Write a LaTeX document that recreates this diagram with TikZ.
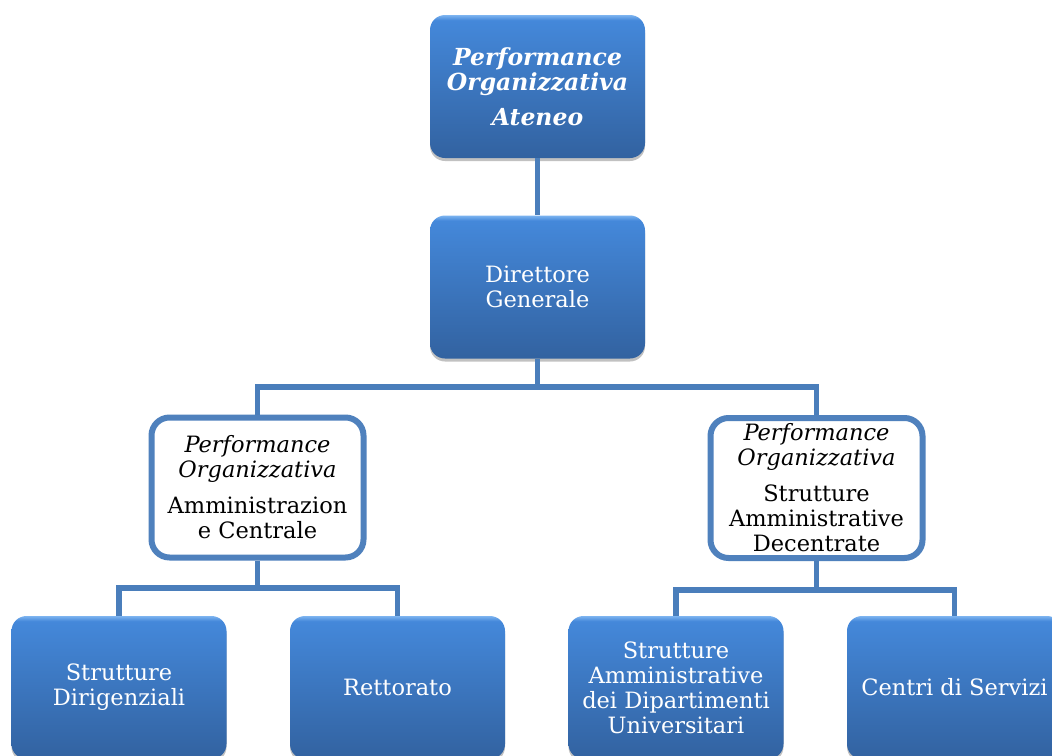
\documentclass[tikz,border=0pt]{standalone}
\usepackage{fontspec}
\setmainfont{DejaVu Serif}
\usetikzlibrary{shadows}
\definecolor{conn}{RGB}{74,126,187}
\definecolor{wborder}{RGB}{79,129,189}
\definecolor{bhi}{RGB}{125,180,240}
\definecolor{btop}{RGB}{68,136,218}
\definecolor{bbot}{RGB}{50,98,160}
\pgfdeclareverticalshading{blueshade}{100bp}{color(0bp)=(bbot); color(25bp)=(bbot); color(73.2bp)=(btop); color(75bp)=(bhi); color(100bp)=(bhi)}
\tikzset{
  bnode/.style={shading=blueshade, rounded corners=15pt, minimum width=215pt, minimum height=143pt,
    align=center, text=white, inner sep=2pt,
    drop shadow={shadow xshift=0pt, shadow yshift=-3pt, opacity=0.3, fill=black!80},
    font=\fontsize{22.5}{25}\selectfont},
  wnode/.style={draw=wborder, line width=6pt, fill=white, rounded corners=18pt,
    minimum width=212pt, minimum height=140pt, align=center, text=black, inner sep=1pt,
    font=\fontsize{22.5}{25}\selectfont},
  link/.style={draw=conn, line width=5.5pt}
}
\begin{document}
\begin{tikzpicture}[x=1pt,y=-1pt]
\useasboundingbox[fill=white] (0,0) rectangle (1052,755);
\coordinate (j1) at (537.5,387);
\coordinate (j2) at (257.5,588);
\coordinate (j3) at (816.5,590);
\node[bnode, font=\fontsize{23.5}{25}\selectfont\bfseries\itshape] (top) at (537.5,86.5) {Performance\\Organizzativa\\[10pt]Ateneo};
\node[bnode] (dg) at (537.5,287) {Direttore\\Generale};
\node[wnode] (wl) at (257.5,487.5) {\textit{Performance}\\\textit{Organizzativa}\\[11pt]Amministrazion\\e Centrale};
\node[wnode] (wr) at (816.5,488) {\textit{Performance}\\\textit{Organizzativa}\\[11pt]Strutture\\Amministrative\\Decentrate};
\node[bnode] (sd) at (119,687.5) {Strutture\\Dirigenziali};
\node[bnode] (re) at (397.5,687.5) {Rettorato};
\node[bnode] (sa) at (676,687.5) {Strutture\\Amministrative\\dei Dipartimenti\\Universitari};
\node[bnode] (cs) at (954.5,687.5) {Centri di Servizi};
\draw[link] (top.south) -- (dg.north);
\draw[link] (dg.south) -- (j1);
\draw[link] (j1) -| (wl.north);
\draw[link] (j1) -| (wr.north);
\draw[link] (wl.south) -- (j2);
\draw[link] (j2) -| (sd.north);
\draw[link] (j2) -| (re.north);
\draw[link] (wr.south) -- (j3);
\draw[link] (j3) -| (sa.north);
\draw[link] (j3) -| (cs.north);
\end{tikzpicture}
\end{document}
